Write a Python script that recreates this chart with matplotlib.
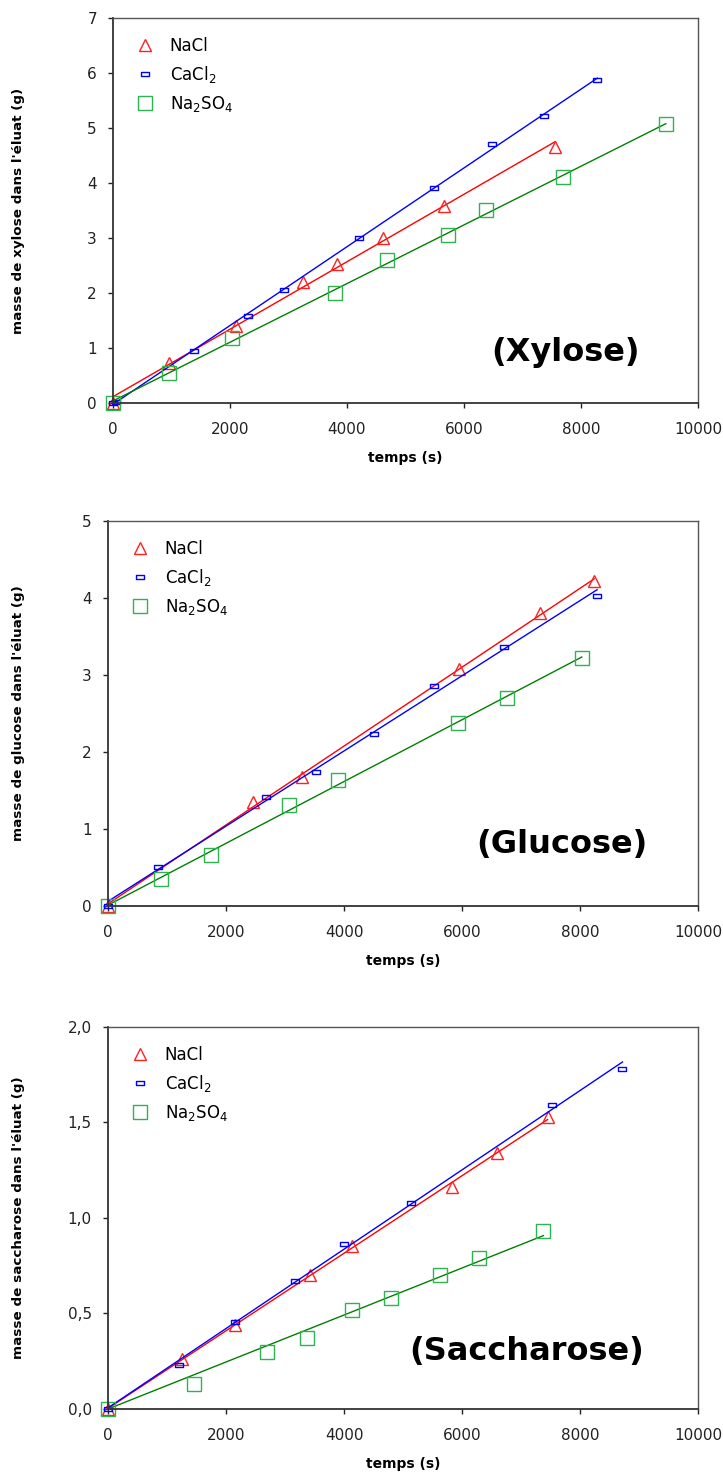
import numpy as np
import matplotlib
matplotlib.use('Agg')
import matplotlib.pyplot as plt
from matplotlib.path import Path

plt.rcParams['font.family'] = ['DejaVu Sans']

# Xylose
xyl_nacl_t = [0, 960, 2100, 3250, 3830, 4620, 5650, 7560]
xyl_nacl_m = [0.0, 0.72, 1.40, 2.20, 2.52, 3.00, 3.58, 4.65]
xyl_cacl_t = [0, 50, 1380, 2300, 2920, 4200, 5480, 6480, 7360, 8280]
xyl_cacl_m = [0.0, 0.02, 0.95, 1.58, 2.05, 3.00, 3.90, 4.70, 5.22, 5.88]
xyl_na2_t = [0, 950, 2040, 3800, 4690, 5720, 6380, 7700, 9450]
xyl_na2_m = [0.0, 0.55, 1.18, 2.00, 2.60, 3.05, 3.50, 4.10, 5.08]

# Glucose
glu_nacl_t = [0, 2450, 3280, 5950, 7320, 8240]
glu_nacl_m = [0.0, 1.35, 1.67, 3.08, 3.80, 4.22]
glu_cacl_t = [0, 850, 2680, 3520, 4500, 5530, 6720, 8290]
glu_cacl_m = [0.0, 0.50, 1.42, 1.74, 2.23, 2.86, 3.37, 4.03]
glu_na2_t = [0, 900, 1740, 3060, 3900, 5930, 6770, 8030]
glu_na2_m = [0.0, 0.35, 0.66, 1.31, 1.64, 2.38, 2.70, 3.22]

# Saccharose
sac_nacl_t = [0, 1250, 2150, 3420, 4130, 5830, 6600, 7450]
sac_nacl_m = [0.0, 0.26, 0.44, 0.70, 0.855, 1.16, 1.34, 1.53]
sac_cacl_t = [0, 1200, 2150, 3170, 4000, 5130, 7520, 8720]
sac_cacl_m = [0.0, 0.23, 0.455, 0.67, 0.865, 1.08, 1.59, 1.78]
sac_na2_t = [0, 1450, 2700, 3370, 4130, 4800, 5630, 6290, 7380]
sac_na2_m = [0.0, 0.13, 0.30, 0.37, 0.52, 0.58, 0.70, 0.79, 0.93]

labels = ['NaCl', r'CaCl$_2$', r'Na$_2$SO$_4$']

# small hollow rectangle used for the CaCl2 points
rect = Path([(-1, -0.5), (1, -0.5), (1, 0.5), (-1, 0.5), (-1, -0.5)],
            [Path.MOVETO, Path.LINETO, Path.LINETO, Path.LINETO, Path.CLOSEPOLY])

styles = [
    dict(marker='^', ms=9, mec='#ff2020', line='#ff0000'),
    dict(marker=rect, ms=6, mec='#0000ff', line='#0000ff'),
    dict(marker='s', ms=9.5, mec='#2db34f', line='#008000'),
]

# last entry: which series get a fit forced through the origin
panels = [
    ([0.1563, 0.7270, 0.8091, 0.2608], 'xylose', '(Xylose)', (0.773, 0.132), 7, 1,
     [(xyl_nacl_t, xyl_nacl_m), (xyl_cacl_t, xyl_cacl_m), (xyl_na2_t, xyl_na2_m)], False, -0.150,
     [False, False, False]),
    ([0.1494, 0.3862, 0.8160, 0.2608], 'glucose', '(Glucose)', (0.77, 0.16), 5, 1,
     [(glu_nacl_t, glu_nacl_m), (glu_cacl_t, glu_cacl_m), (glu_na2_t, glu_na2_m)], False, -0.141,
     [False, False, False]),
    ([0.1494, 0.0454, 0.8160, 0.2588], 'saccharose', '(Saccharose)', (0.71, 0.15), 2, 0.5,
     [(sac_nacl_t, sac_nacl_m), (sac_cacl_t, sac_cacl_m), (sac_na2_t, sac_na2_m)], True, -0.141,
     [False, False, True]),
]

fig = plt.figure(figsize=(7.23, 14.76), dpi=100)

for rect_ax, sugar, title, tpos, ymax, ystep, series, comma, ylx, origin in panels:
    ax = fig.add_axes(rect_ax)
    for (t, m), st, lab, o in zip(series, styles, labels, origin):
        t = np.array(t, dtype=float)
        m = np.array(m, dtype=float)
        if o:
            p = [np.sum(t * m) / np.sum(t * t), 0.0]
        else:
            p = np.polyfit(t, m, 1)
        xs = np.array([t.min(), t.max()])
        ax.plot(xs, np.polyval(p, xs), color=st['line'], lw=1)
        ax.plot(t, m, linestyle='none', marker=st['marker'], ms=st['ms'],
                mfc='none', mec=st['mec'], mew=1, label=lab, clip_on=False)
    ax.set_xlim(0, 10000)
    ax.set_ylim(0, ymax)
    ax.set_xticks(np.arange(0, 10001, 2000))
    yt = np.arange(0, ymax + 0.001, ystep)
    ax.set_yticks(yt)
    if comma:
        ax.set_yticklabels([('%.1f' % v).replace('.', ',') for v in yt])
    ax.tick_params(direction='out', length=3.6, width=1, labelsize=11,
                   top=False, right=False, colors='#222222')
    ax.tick_params(axis='x', pad=10)
    ax.tick_params(axis='y', pad=8)
    for side in ['left', 'bottom']:
        ax.spines[side].set_color('#333333')
        ax.spines[side].set_linewidth(1.3)
    for side in ['top', 'right']:
        ax.spines[side].set_color('#555555')
        ax.spines[side].set_linewidth(1.0)
    hpx = rect_ax[3] * 1476
    ax.set_xlabel('temps (s)', fontsize=10, fontweight='bold', va='top')
    ax.xaxis.set_label_coords(0.5, -48 / hpx)
    ax.set_ylabel("masse de %s dans l'éluat (g)" % sugar, fontsize=9.7,
                  fontweight='bold')
    ax.yaxis.set_label_coords(ylx, 0.5)
    ax.text(tpos[0], tpos[1], title, transform=ax.transAxes, fontsize=23,
            fontweight='bold', ha='center', va='center')
    ax.legend(loc='upper left', frameon=False, fontsize=12, labelspacing=0.55,
              handlelength=1.0, handletextpad=1.0, bbox_to_anchor=(0.014, 0.99))

fig.savefig('out.png', dpi=100)
